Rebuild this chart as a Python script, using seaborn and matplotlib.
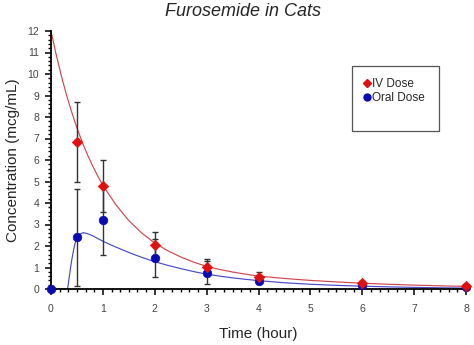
import numpy as np
import pandas as pd
import matplotlib
matplotlib.use("Agg")
import matplotlib.pyplot as plt
import seaborn as sns
from matplotlib.lines import Line2D
from matplotlib.patches import Rectangle
from matplotlib.ticker import MultipleLocator

# ---- data ----
iv_time = [0.5, 1, 2, 3, 4, 6, 8]
iv_conc = [6.85, 4.8, 2.03, 1.04, 0.57, 0.26, 0.14]
iv_err = [1.85, 1.2, 0.6, 0.36, 0.2, 0.1, 0.07]

oral_time = [0, 0.5, 1, 2, 3, 4, 6, 8]
oral_conc = [0.0, 2.4, 3.2, 1.44, 0.75, 0.39, 0.17, 0.08]
oral_err = [0.0, 2.25, 1.6, 0.9, 0.53, 0.12, 0.08, 0.06]

iv_fit_t = [0, 0.1, 0.2, 0.3, 0.4, 0.5, 0.6, 0.7, 0.8, 0.9, 1.0, 1.25, 1.5,
            1.75, 2.0, 2.25, 2.5, 2.75, 3.0, 3.25, 3.5, 3.75, 4.0, 4.5, 5.0,
            5.5, 6.0, 6.5, 7.0, 7.5, 8.0]
iv_fit_c = [12.0, 10.9, 9.91, 9.01, 8.22, 7.49, 6.84, 6.26, 5.74, 5.26, 4.82,
            3.92, 3.18, 2.6, 2.14, 1.78, 1.49, 1.25, 1.05, 0.91, 0.79, 0.69,
            0.6, 0.49, 0.40, 0.33, 0.27, 0.22, 0.18, 0.148, 0.12]

oral_fit_t = [0, 0.32, 0.34, 0.36, 0.38, 0.40, 0.43, 0.46, 0.5, 0.55, 0.62,
              0.7, 0.8, 0.9, 1.0, 1.25, 1.5, 1.75, 2.0, 2.25, 2.5, 2.75, 3.0,
              3.25, 3.5, 3.75, 4.0, 4.5, 5.0, 5.5, 6.0, 6.5, 7.0, 7.5, 8.0]
oral_fit_c = [0.0, 0.0, 0.35, 0.7, 1.05, 1.35, 1.75, 2.1, 2.38, 2.55, 2.62,
              2.58, 2.48, 2.35, 2.22, 1.95, 1.7, 1.47, 1.27, 1.1, 0.95, 0.81,
              0.69, 0.6, 0.52, 0.45, 0.39, 0.29, 0.22, 0.17, 0.13, 0.1, 0.075,
              0.057, 0.043]

title = "Furosemide in Cats"
xlabel = "Time (hour)"
ylabel = "Concentration (mcg/mL)"
labels = ["IV Dose", "Oral Dose"]

# ---- style ----
sns.set_style("ticks")
plt.rcParams["font.family"] = ["Liberation Sans", "DejaVu Sans"]

red_line = "#d0474f"
blue_line = "#4a4ac8"
red_mk = "#e01010"
blue_mk = "#0a0ab4"

fig = plt.figure(figsize=(4.74, 3.45), dpi=100)
ax = fig.add_axes([51 / 474, 1 - 289 / 345, 415 / 474, 258 / 345])

sns.lineplot(x=iv_fit_t, y=iv_fit_c, ax=ax, color=red_line, lw=0.85,
             estimator=None, sort=False, zorder=2)
sns.lineplot(x=oral_fit_t, y=oral_fit_c, ax=ax, color=blue_line, lw=0.85,
             estimator=None, sort=False, zorder=2)

ax.errorbar(iv_time, iv_conc, yerr=iv_err, fmt="none", ecolor="#333333",
            elinewidth=1.0, capsize=2.5, capthick=1.0, zorder=3)
ax.errorbar(oral_time, oral_conc, yerr=oral_err, fmt="none", ecolor="#333333",
            elinewidth=1.0, capsize=2.5, capthick=1.0, zorder=3)

sns.scatterplot(x=oral_time, y=oral_conc, ax=ax, marker="o", s=38,
                color=blue_mk, edgecolor=blue_mk, linewidth=0.5, zorder=4,
                clip_on=False)
sns.scatterplot(x=iv_time, y=iv_conc, ax=ax, marker="D", s=28,
                color=red_mk, edgecolor=red_mk, linewidth=0.5, zorder=5,
                clip_on=False)

ax.set_xlim(0, 8)
ax.set_ylim(0, 12)
ax.xaxis.set_major_locator(MultipleLocator(1))
ax.xaxis.set_minor_locator(MultipleLocator(1 / 6))
ax.yaxis.set_major_locator(MultipleLocator(1))
ax.yaxis.set_minor_locator(MultipleLocator(0.2))

for s in ["top", "right"]:
    ax.spines[s].set_visible(False)
for s in ["left", "bottom"]:
    ax.spines[s].set_color("black")
    ax.spines[s].set_linewidth(1.3)

ax.tick_params(axis="both", which="major", length=4.5, width=1.1,
               color="black", labelsize=7.5, labelcolor="#444444", pad=4)
ax.tick_params(axis="x", which="major", pad=6)
ax.tick_params(axis="both", which="minor", length=2.5, width=1.0,
               color="black")

ax.set_xlabel(xlabel, fontsize=11, labelpad=10)
ax.set_ylabel(ylabel, fontsize=11, labelpad=5.5)
fig.text(243 / 474, 1 - 12 / 345, title, fontsize=13, style="italic",
         ha="center", va="center")

# legend box
rect = Rectangle(((352 - 51) / 415, (289 - 131) / 258), 87 / 415, 65 / 258,
                 transform=ax.transAxes, fill=True, facecolor="white",
                 edgecolor="#555555", lw=0.9, clip_on=False, zorder=6)
ax.add_patch(rect)
handles = [
    Line2D([], [], marker="D", color=red_mk, ls="none", markersize=4.5),
    Line2D([], [], marker="o", color=blue_mk, ls="none", markersize=5),
]
leg = ax.legend(handles, labels, loc="upper left", frameon=False,
                bbox_to_anchor=((363 - 51) / 415, (289 - 78) / 258),
                fontsize=8.5, handlelength=0.6, handletextpad=0.2,
                labelspacing=0.2, borderpad=0, borderaxespad=0)
leg.set_zorder(7)

fig.savefig("out.png", dpi=100)
